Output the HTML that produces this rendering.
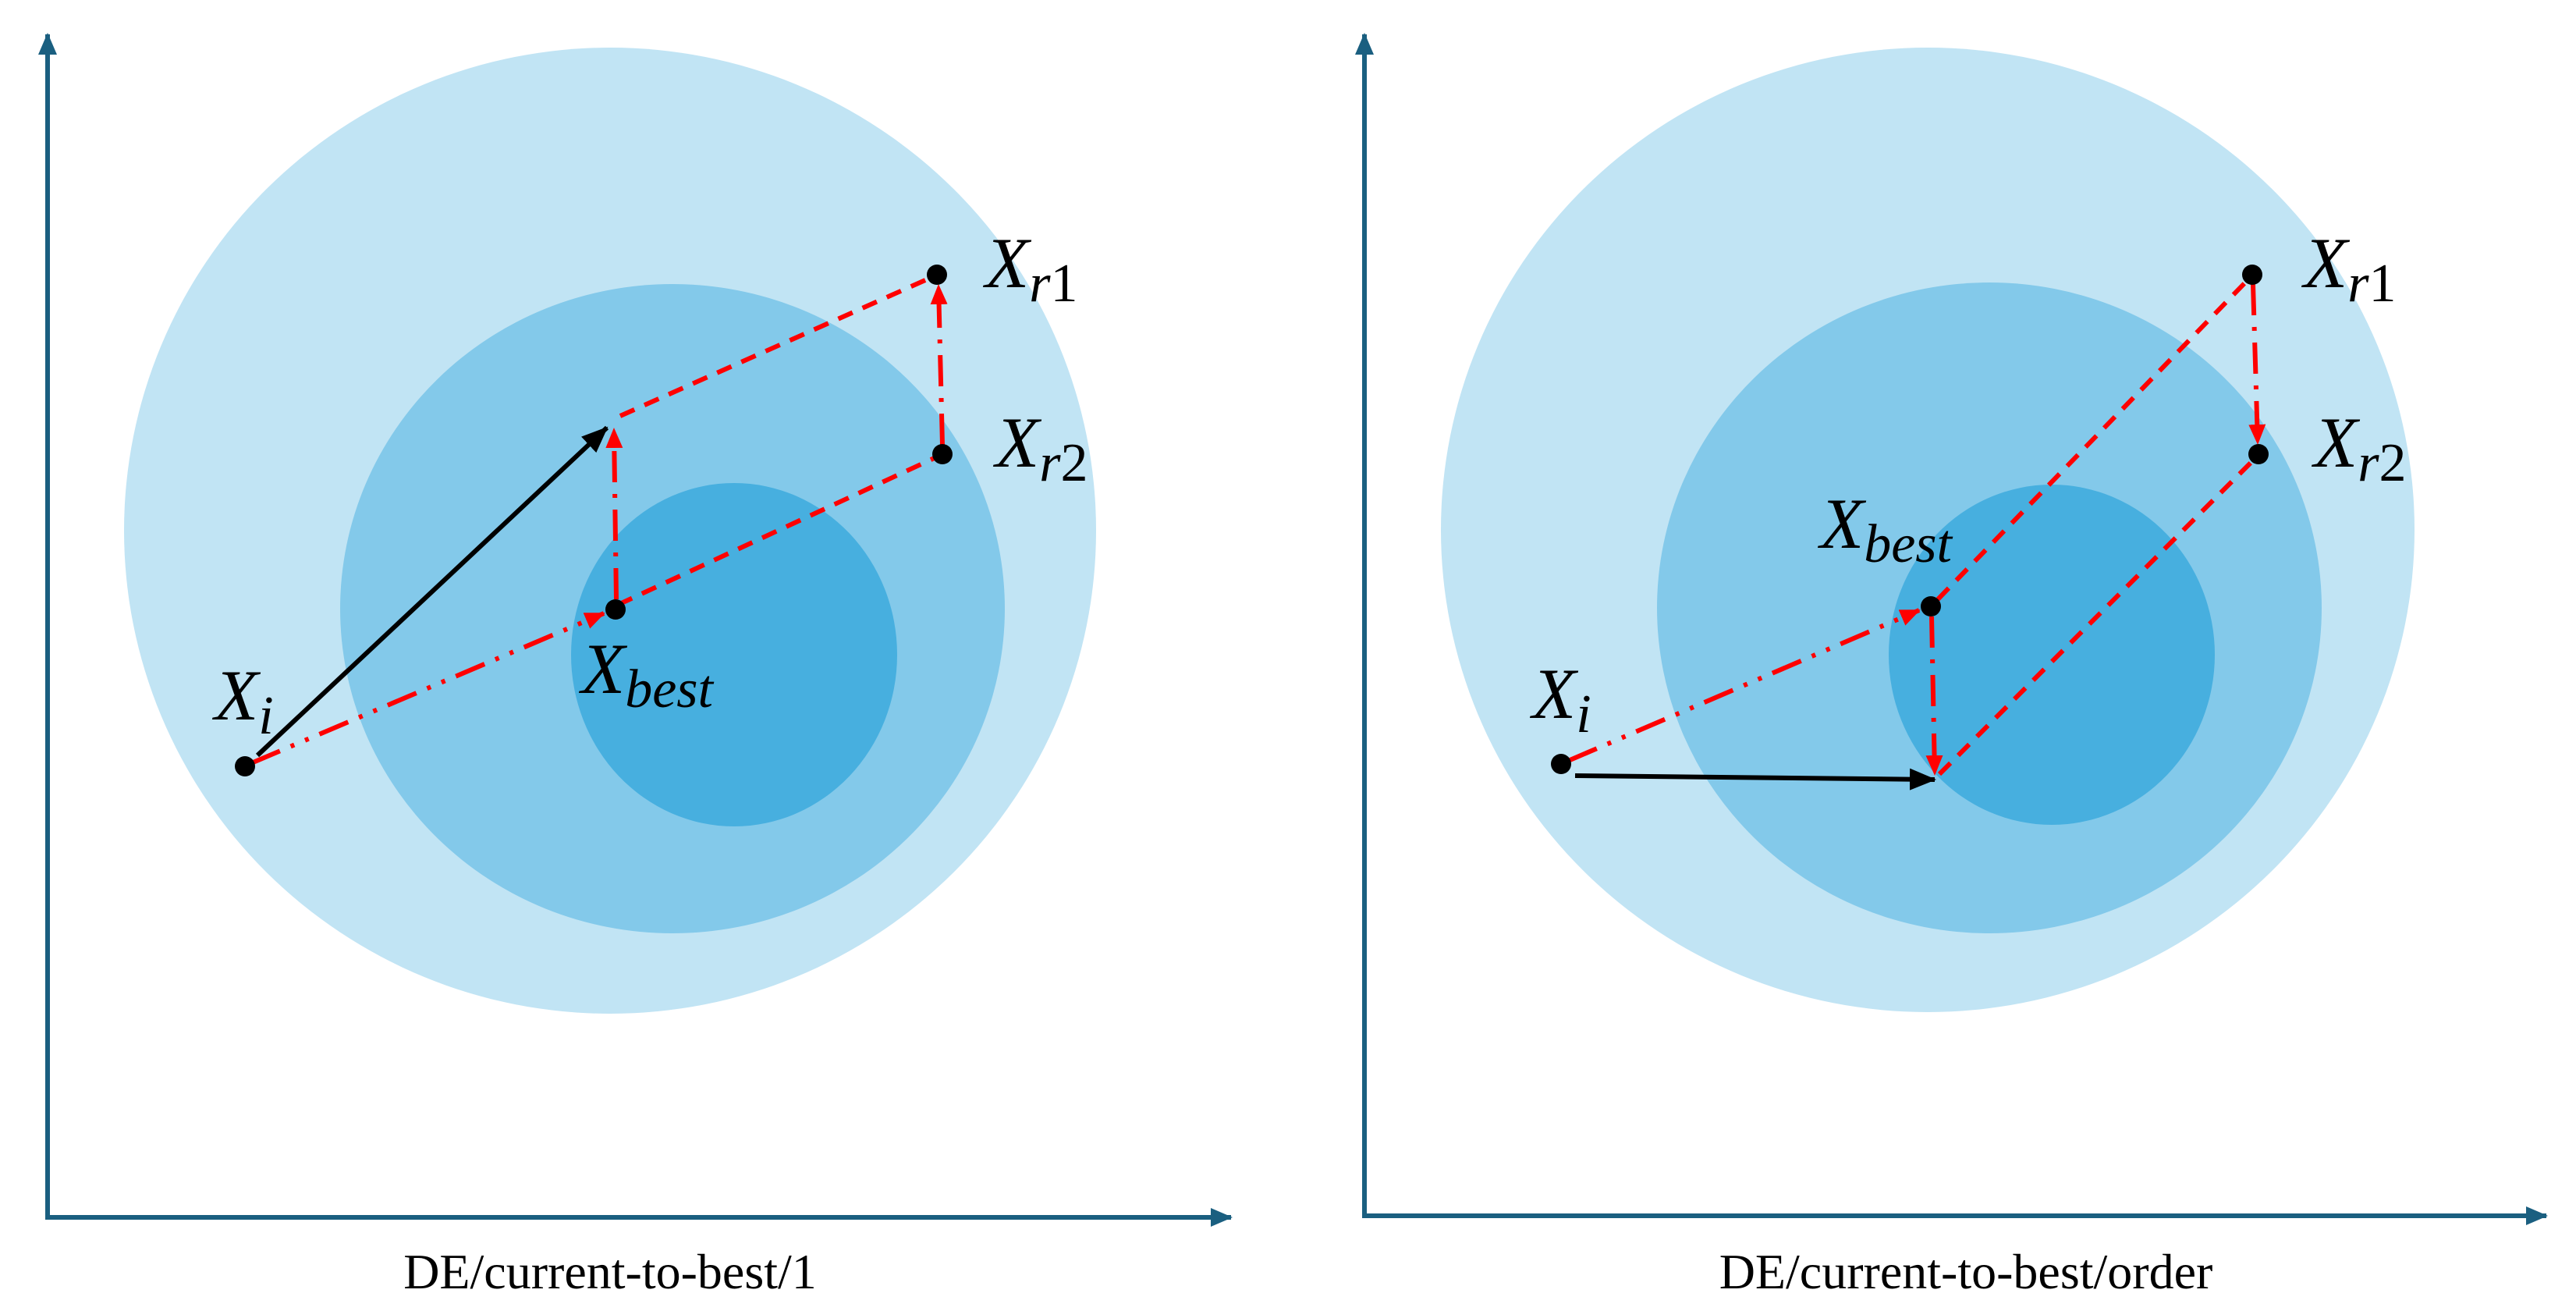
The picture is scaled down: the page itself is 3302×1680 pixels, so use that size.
<!DOCTYPE html>
<html><head><meta charset="utf-8"><style>
html,body{margin:0;padding:0;background:#fff;}
svg{display:block;}
.lbl{font-family:"Liberation Serif",serif;font-style:italic;font-size:92px;fill:#000;}
.sub{font-size:70px;}
.up{font-style:normal;}
.ttl{font-family:"Liberation Serif",serif;font-size:64px;fill:#000;}
</style></head><body>
<svg width="3302" height="1680" viewBox="0 0 3302 1680" xmlns="http://www.w3.org/2000/svg">
<defs>
<marker id="ab" markerUnits="userSpaceOnUse" markerWidth="34" markerHeight="28" refX="32" refY="14" orient="auto"><path d="M0,0 L34,14 L0,28 Z" fill="#000"/></marker>
<marker id="ar" markerUnits="userSpaceOnUse" markerWidth="26" markerHeight="22" refX="24" refY="11" orient="auto"><path d="M0,0 L26,11 L0,22 Z" fill="#f00"/></marker>
<marker id="aa" markerUnits="userSpaceOnUse" markerWidth="28" markerHeight="24" refX="26" refY="12" orient="auto"><path d="M0,0 L28,12 L0,24 Z" fill="#1a5f80"/></marker>
</defs>
<!-- LEFT -->
<ellipse cx="782" cy="680" rx="623" ry="619" fill="#c1e4f4"/>
<ellipse cx="862" cy="780" rx="426" ry="416" fill="#83c9ea"/>
<ellipse cx="941" cy="839" rx="209" ry="220" fill="#47afdf"/>
<line x1="61" y1="1563" x2="61" y2="44" stroke="#1a5f80" stroke-width="6" marker-end="url(#aa)"/>
<line x1="58" y1="1560" x2="1578" y2="1560" stroke="#1a5f80" stroke-width="6" marker-end="url(#aa)"/>
<g stroke="#f00" stroke-width="6" fill="none">
<line x1="795" y1="533" x2="1195" y2="355" stroke-dasharray="20 14"/>
<line x1="792" y1="775" x2="1202" y2="585" stroke-dasharray="20 14"/>
<line x1="322" y1="978" x2="774" y2="786" stroke-dasharray="40 15 5 15 5 15" marker-end="url(#ar)"/>
<line x1="790" y1="768" x2="787" y2="550" stroke-dasharray="40 15 5 15" marker-end="url(#ar)"/>
<line x1="1208" y1="570" x2="1203" y2="366" stroke-dasharray="40 15 5 15" marker-end="url(#ar)"/>
</g>
<line x1="330" y1="968" x2="778" y2="548" stroke="#000" stroke-width="6" marker-end="url(#ab)"/>
<g fill="#000">
<circle cx="314" cy="982" r="13"/><circle cx="789" cy="781" r="13"/>
<circle cx="1201" cy="352" r="13"/><circle cx="1208" cy="582" r="13"/>
</g>
<text class="lbl" x="275" y="922">X<tspan class="sub" dy="18">i</tspan></text>
<text class="lbl" x="745" y="888">X<tspan class="sub" dy="18">best</tspan></text>
<text class="lbl" x="1263" y="368">X<tspan class="sub" dy="18">r<tspan class="up">1</tspan></tspan></text>
<text class="lbl" x="1276" y="598">X<tspan class="sub" dy="18">r<tspan class="up">2</tspan></tspan></text>
<text class="ttl" x="782" y="1651" text-anchor="middle">DE/current-to-best/1</text>
<!-- RIGHT -->
<ellipse cx="2471" cy="679" rx="624" ry="618" fill="#c1e4f4"/>
<ellipse cx="2550" cy="779" rx="426" ry="417" fill="#83c9ea"/>
<ellipse cx="2630" cy="839" rx="209" ry="218" fill="#47afdf"/>
<line x1="1749" y1="1561" x2="1749" y2="44" stroke="#1a5f80" stroke-width="6" marker-end="url(#aa)"/>
<line x1="1746" y1="1558" x2="3264" y2="1558" stroke="#1a5f80" stroke-width="6" marker-end="url(#aa)"/>
<g stroke="#f00" stroke-width="6" fill="none">
<line x1="2484" y1="768" x2="2880" y2="360" stroke-dasharray="20 14"/>
<line x1="2486" y1="992" x2="2888" y2="590" stroke-dasharray="20 14"/>
<line x1="2010" y1="975" x2="2460" y2="782" stroke-dasharray="40 15 5 15 5 15" marker-end="url(#ar)"/>
<line x1="2476" y1="790" x2="2480" y2="992" stroke-dasharray="40 15 5 15" marker-end="url(#ar)"/>
<line x1="2888" y1="364" x2="2894" y2="568" stroke-dasharray="40 15 5 15" marker-end="url(#ar)"/>
</g>
<line x1="2019" y1="994" x2="2480" y2="999" stroke="#000" stroke-width="6" marker-end="url(#ab)"/>
<g fill="#000">
<circle cx="2001" cy="979" r="13"/><circle cx="2475" cy="777" r="13"/>
<circle cx="2887" cy="352" r="13"/><circle cx="2895" cy="582" r="13"/>
</g>
<text class="lbl" x="1964" y="920">X<tspan class="sub" dy="18">i</tspan></text>
<text class="lbl" x="2333" y="702">X<tspan class="sub" dy="18">best</tspan></text>
<text class="lbl" x="2953" y="368">X<tspan class="sub" dy="18">r<tspan class="up">1</tspan></tspan></text>
<text class="lbl" x="2966" y="598">X<tspan class="sub" dy="18">r<tspan class="up">2</tspan></tspan></text>
<text class="ttl" x="2520" y="1651" text-anchor="middle">DE/current-to-best/order</text>
</svg>
</body></html>
